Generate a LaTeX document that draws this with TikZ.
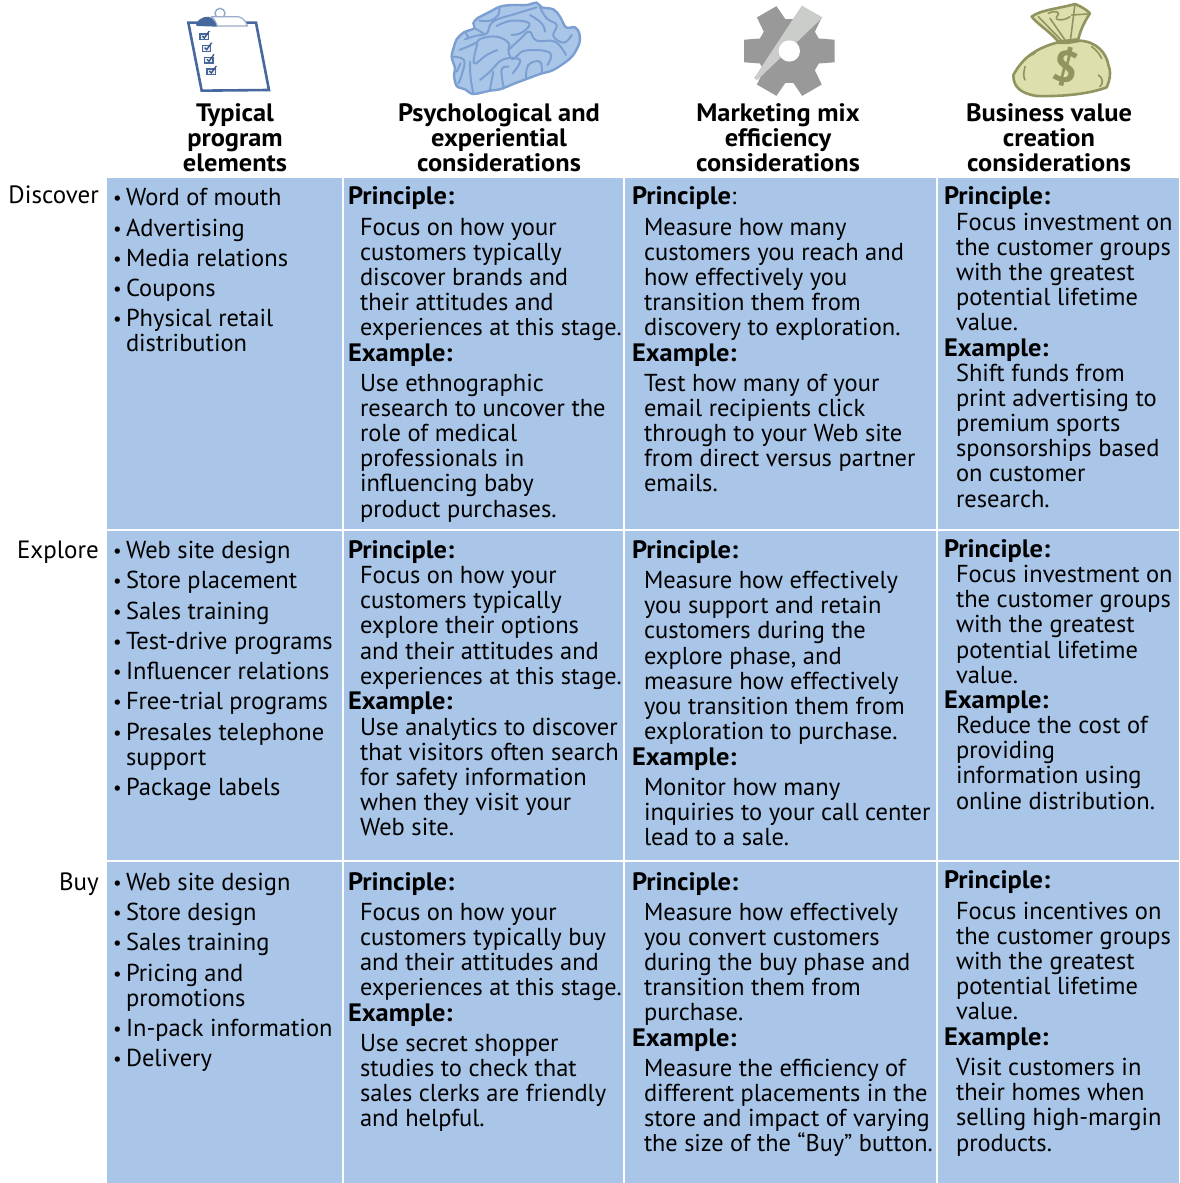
\documentclass[tikz,border=0pt]{standalone}
\usepackage{fontspec}
\setmainfont[BoldFeatures={FakeStretch=1.048}]{PT Sans}
\definecolor{cellblue}{HTML}{A9C6E8}
\definecolor{brainline}{HTML}{7C9FD2}
\definecolor{clipblue}{HTML}{46689F}
\definecolor{geargray}{HTML}{999999}
\definecolor{gearlight}{HTML}{CBCDCA}
\definecolor{bagfill}{HTML}{DDE0AC}
\definecolor{bagline}{HTML}{90945F}
\newcommand{\fs}{\fontsize{24.5}{25.2}\selectfont}
\newcommand{\tight}{\fontsize{24.25}{25.2}\selectfont}
\newcommand{\bfs}{\fontsize{25.2}{25.2}\selectfont\bfseries}
\newcommand{\Tx}[4]{\node[txt] (#1) at (#2,#3) {\strut #4};}
\newcommand{\Prn}[3]{\node[txt,font=\bfs] (#1) at (#2,#3) {\strut Principle:};}
\newcommand{\Exm}[3]{\node[txt,font=\bfs] (#1) at (#2,#3) {\strut Example:};}
\newcommand{\Bu}[3]{\node[txt,font=\fontsize{19}{25.2}\selectfont] (#1) at (113,#2-1) {\strut •};\node[txt] (#1t) at (126,#2) {\strut #3};}
\tikzset{txt/.style={anchor=north west,inner sep=0pt,outer sep=0pt,align=left,font=\fs,text=black,yshift=17.64pt},
 hdr/.style={anchor=north,inner sep=0pt,align=center,font=\bfs,yshift=17.64pt},
 rowlab/.style={anchor=north east,inner sep=0pt,align=right,font=\fontsize{25}{25.2}\selectfont,yshift=17.64pt},
 sep/.style={white,line width=1.6pt},
 sulcus/.style={draw=brainline,line width=2pt,line cap=round,line join=round},
 bagfold/.style={bagline,line width=1.6pt,line cap=round}}
\begin{document}
\begin{tikzpicture}[x=1pt,y=-1pt]
\useasboundingbox (0,0) rectangle (1180,1183);
\fill[cellblue] (107,178) rectangle (1179,1183);
\draw[sep] (343,178)--(343,1183);
\draw[sep] (624,178)--(624,1183);
\draw[sep] (937,178)--(937,1183);
\draw[sep] (107,530)--(1179,530);
\draw[sep] (107,861)--(1179,861);
% clipboard
\begin{scope}[shift={(170,0)},x=.3333pt,y=-.3333pt]
\draw[clipblue,line width=2.6pt,fill=white,line join=miter] (55,68)--(258,68)--(297,270)--(95,272)--cycle;
\draw[clipblue!60,line width=1.3pt] (150,40) circle (15);
\fill[white] (130,48) rectangle (170,62);
\draw[clipblue!55,line width=1.2pt,fill=white] (125,50) -- (205,50) .. controls (220,53) and (228,65) .. (232,78) -- (142,78) .. controls (136,62) and (130,55) .. (125,50) -- cycle;
\fill[clipblue] (78,72) .. controls (85,52) and (115,45) .. (125,54) .. controls (132,60) and (136,68) .. (141,80) -- (80,78) -- cycle;
\foreach \x/\y in {103/110,110/145,117/180,124/215}{
 \draw[clipblue,line width=1.4pt,fill=clipblue!12] (\x-13,\y-8) rectangle (\x+12,\y+9);
 \draw[clipblue!80!black,line width=1.3pt] (\x-6,\y-2)--(\x,\y+4)--(\x+15,\y-17);
}
\end{scope}
% brain
\begin{scope}[shift={(440,0)},x=.3333pt,y=-.3333pt]
\draw[brainline,line width=2.4pt,fill=cellblue,line join=round] plot[smooth cycle,tension=.55] coordinates {(35,170)(42,140)(50,118)(72,97)(103,85)(100,70)(112,55)(150,35)(180,20)(215,15)(260,15)(290,8)(305,22)(340,28)(360,50)(378,82)(405,82)(418,100)(418,130)(400,165)(385,180)(340,210)(300,222)(260,237)(225,250)(180,268)(150,272)(100,282)(75,268)(50,258)(42,225)(45,205)};
\draw[sulcus] plot[smooth,tension=.7] coordinates {(75,118)(105,108)(140,100)(150,75)(172,58)(225,42)(290,22)};
\draw[sulcus] plot[smooth,tension=.7] coordinates {(105,85)(130,100)};
\draw[sulcus] plot[smooth,tension=.7] coordinates {(118,62)(150,62)(175,45)(178,25)};
\draw[sulcus] plot[smooth,tension=.7] coordinates {(170,78)(215,62)(268,70)(245,98)(215,105)};
\draw[sulcus] plot[smooth,tension=.7] coordinates {(300,22)(320,55)(350,75)(340,108)(372,128)(395,105)};
\draw[sulcus] plot[smooth,tension=.7] coordinates {(270,45)(305,70)(315,95)};
\draw[sulcus] plot[smooth,tension=.7] coordinates {(58,150)(105,130)(125,115)(170,110)(205,128)(205,150)};
\draw[sulcus] plot[smooth,tension=.7] coordinates {(112,132)(102,190)(140,165)(172,150)};
\draw[sulcus] plot[smooth,tension=.7] coordinates {(205,150)(240,118)(268,95)(290,122)(345,125)(378,165)};
\draw[sulcus] plot[smooth,tension=.7] coordinates {(205,150)(218,178)(255,152)(330,158)(322,195)};
\draw[sulcus] plot[smooth,tension=.7] coordinates {(90,185)(92,235)(100,280)};
\draw[sulcus] plot[smooth,tension=.7] coordinates {(35,170)(72,180)(65,225)(55,250)};
\draw[sulcus] plot[smooth,tension=.7] coordinates {(120,240)(150,215)(190,178)(240,180)(218,220)};
\draw[sulcus] plot[smooth,tension=.7] coordinates {(150,268)(160,215)};
\draw[sulcus] plot[smooth,tension=.7] coordinates {(190,258)(185,208)(205,200)};
\draw[sulcus] plot[smooth,tension=.7] coordinates {(258,235)(265,195)(300,185)(305,218)};
\draw[sulcus] plot[smooth,tension=.7] coordinates {(62,190)(50,215)};
\draw[sulcus] plot[smooth,tension=.7] coordinates {(75,95)(85,112)};
\end{scope}
% gear
\begin{scope}[shift={(730,0)},x=.3333pt,y=-.3333pt]
\begin{scope}[shift={(178,153)}]
\fill[geargray] (-23:96) \foreach \a in {0,60,120,180,240,300}{ -- (\a-23:96) -- (\a-14:140) -- (\a+14:140) -- (\a+23:96)} -- cycle;
\end{scope}
\fill[gearlight] (72,235)--(215,18)--(278,52)--(82,240)--cycle;
\fill[white] (178,153) circle (32);
\end{scope}
% bag
\begin{scope}[shift={(1000,0)},x=.3333pt,y=-.3333pt]
\draw[bagline,line width=2.6pt,fill=bagfill,line join=round] (175,125) .. controls (150,95) and (110,70) .. (95,50) .. controls (120,30) and (180,25) .. (225,12) .. controls (245,20) and (260,30) .. (270,40) .. controls (250,70) and (240,95) .. (235,118) -- cycle;
\draw[bagfold] (115,50)--(185,122);
\draw[bagfold] (145,40) .. controls (165,30) and (185,35) .. (170,50) .. controls (160,60) and (190,65) .. (210,50);
\draw[bagfold] (225,12)--(212,115);
\draw[bagfold] (215,45)--(262,42);
\draw[bagfold] (150,55)--(195,120);
\draw[bagline,line width=2.6pt,fill=bagfill,line join=round] (170,128) .. controls (110,145) and (70,170) .. (40,225) .. controls (40,260) and (60,280) .. (110,288) .. controls (170,290) and (260,285) .. (320,262) .. controls (335,230) and (330,205) .. (325,195) .. controls (320,160) and (290,125) .. (240,122) .. controls (215,128) and (190,130) .. (170,128) -- cycle;
\draw[bagfold] (75,175) .. controls (85,170) and (95,165) .. (105,160);
\draw[bagfold] (75,200) .. controls (70,220) and (70,230) .. (75,240);
\draw[bagfold] (275,140) .. controls (290,150) and (300,165) .. (305,175);
\draw[bagfold] (295,225) .. controls (310,235) and (310,250) .. (300,260);
\node[rotate=-14,text=bagline,inner sep=0pt,font=\fontsize{44}{44}\selectfont\bfseries] (dollar) at (198,200) {\$};
\end{scope}
% headers
\node[hdr] (h1) at (235,121) {Typical\\program\\elements};
\node[hdr] (h2) at (499,121) {Psychological and\\experiential\\considerations};
\node[hdr] (h3) at (778,121) {Marketing mix\\efficiency\\considerations};
\node[hdr] (h4) at (1049,121) {Business value\\creation\\considerations};
% row labels
\node[rowlab] (r1) at (99,203) {Discover};
\node[rowlab] (r2) at (99,558) {Explore};
\node[rowlab] (r3) at (99,890) {Buy};
% col 1
\Bu{a1}{205}{Word of mouth}
\Bu{a2}{236}{Advertising}
\Bu{a3}{266}{Media relations}
\Bu{a4}{296}{Coupons}
\Bu{a5}{326.4}{Physical retail\\distribution}
\Bu{b1}{558}{Web site design}
\Bu{b2}{588}{Store placement}
\Bu{b3}{619}{Sales training}
\Bu{b4}{649}{Test-drive programs}
\Bu{b5}{679}{Influencer relations}
\Bu{b6}{709}{Free-trial programs}
\Bu{b7}{740}{Presales telephone\\support}
\Bu{b8}{795}{Package labels}
\Bu{c1}{890}{Web site design}
\Bu{c2}{920}{Store design}
\Bu{c3}{950}{Sales training}
\Bu{c4}{981}{Pricing and\\promotions}
\Bu{c5}{1036}{In-pack information}
\Bu{c6}{1066}{Delivery}
% col 2
\Prn{p21}{348}{204}
\Tx{t21}{360}{235}{Focus on how your\\customers typically\\discover brands and\\their attitudes and\\{\tight experiences at this stage.}}
\Exm{e21}{348}{361}
\Tx{x21}{360}{391}{Use ethnographic\\research to uncover the\\role of medical\\professionals in\\influencing baby\\product purchases.}
\Prn{p22}{348}{558}
\Tx{t22}{360}{583.5}{Focus on how your\\customers typically\\explore their options\\and their attitudes and\\{\tight experiences at this stage.}}
\Exm{e22}{348}{709}
\Tx{x22}{360}{735}{Use analytics to discover\\that visitors often search\\for safety information\\when they visit your\\Web site.}
\Prn{p23}{348}{890}
\Tx{t23}{360}{920}{Focus on how your\\customers typically buy\\and their attitudes and\\{\tight experiences at this stage.}}
\Exm{e23}{348}{1021}
\Tx{x23}{360}{1051}{Use secret shopper\\studies to check that\\sales clerks are friendly\\and helpful.}
% col 3
\node[txt] (p31) at (632,204) {\strut{\bfs Principle}:};
\Tx{t31}{644}{235}{Measure how many\\customers you reach and\\how effectively you\\transition them from\\discovery to exploration.}
\Exm{e31}{632}{361}
\Tx{x31}{644}{391}{Test how many of your\\email recipients click\\through to your Web site\\from direct versus partner\\emails.}
\Prn{p32}{632}{558}
\Tx{t32}{644}{588.4}{Measure how effectively\\you support and retain\\customers during the\\explore phase, and\\measure how effectively\\you transition them from\\exploration to purchase.}
\Exm{e32}{632}{765}
\Tx{x32}{644}{795.4}{Monitor how many\\inquiries to your call center\\lead to a sale.}
\Prn{p33}{632}{890}
\Tx{t33}{644}{920}{Measure how effectively\\you convert customers\\during the buy phase and\\transition them from\\purchase.}
\Exm{e33}{632}{1046}
\Tx{x33}{644}{1076}{Measure the efficiency of\\different placements in the\\store and impact of varying\\{\tight the size of the “Buy” button.}}
% col 4
\Prn{p41}{944}{204}
\Tx{t41}{956}{230}{Focus investment on\\the customer groups\\with the greatest\\potential lifetime\\value.}
\Exm{e41}{944}{356}
\Tx{x41}{956}{381}{Shift funds from\\print advertising to\\premium sports\\sponsorships based\\on customer\\research.}
\Prn{p42}{944}{557}
\Tx{t42}{956}{582.4}{Focus investment on\\the customer groups\\with the greatest\\potential lifetime\\value.}
\Exm{e42}{944}{708}
\Tx{x42}{956}{733.4}{Reduce the cost of\\providing\\information using\\online distribution.}
\Prn{p43}{944}{888}
\Tx{t43}{956}{919}{Focus incentives on\\the customer groups\\with the greatest\\potential lifetime\\value.}
\Exm{e43}{944}{1045}
\Tx{x43}{956}{1075.4}{Visit customers in\\their homes when\\selling high-margin\\products.}
\end{tikzpicture}
\end{document}
